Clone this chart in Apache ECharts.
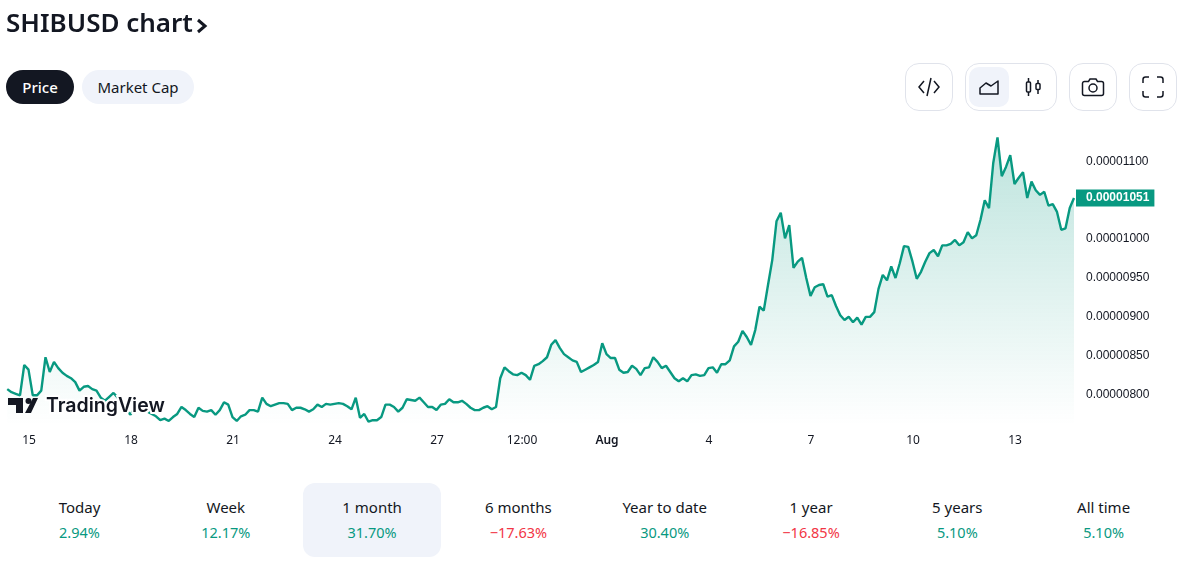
<!DOCTYPE html>
<html>
<head>
<meta charset="utf-8"/>
<title>SHIBUSD chart</title>
<script src="https://cdn.jsdelivr.net/npm/echarts@6/dist/echarts.min.js"></script>
<style>
    html, body { margin: 0; padding: 0; background: #fff; width: 1190px; height: 566px; overflow: hidden; }
    body { font-family: "Noto Sans", sans-serif; color: #131722; position: relative; }
    .abs { position: absolute; box-sizing: border-box; }
    #title { left: 6px; top: 3px; font-size: 26px; line-height: 38px; font-weight: 600; white-space: nowrap; }
    .pill { top: 70px; height: 34px; line-height: 34px; border-radius: 17px; text-align: center; font-size: 15px; }
    .btn { top: 63px; height: 48px; border: 1px solid #e0e3eb; border-radius: 14px; }
    .icon { top: 75px; width: 24px; height: 24px; fill: none; stroke: #131722; stroke-width: 1.5; }
    #main { left: 0; top: 0; width: 1190px; height: 460px; }
    .stat { top: 483px; width: 146px; height: 74px; text-align: center; }
    .stat .n { position: absolute; left: 0; right: 0; top: 13px; font-size: 15px; line-height: 22px; }
    .stat .v { position: absolute; left: 0; right: 0; top: 38px; font-size: 14.5px; line-height: 22px; }
</style>
</head>
<body>
<div class="abs" id="main"></div>

<div class="abs" id="title">SHIBUSD chart</div>
<svg class="abs" style="left:195px;top:17px;width:14px;height:18px" viewBox="0 0 14 18">
    <path d="M3 3l7 6-7 6" fill="none" stroke="#131722" stroke-width="3"/>
</svg>

<div class="abs pill" style="left:6px;width:68px;background:#131722;color:#fff;font-weight:500">Price</div>
<div class="abs pill" style="left:82px;width:112px;background:#f0f3fa">Market Cap</div>

<div class="abs btn" style="left:905px;width:48px"></div>
<div class="abs btn" style="left:965px;width:92px"></div>
<div class="abs" style="left:969px;top:67px;width:40px;height:40px;background:#f0f3fa;border-radius:10px"></div>
<div class="abs btn" style="left:1069px;width:48px"></div>
<div class="abs btn" style="left:1129px;width:48px"></div>

<svg class="abs icon" style="left:917px" viewBox="0 0 24 24"><path d="M7 6l-5 6 5 6M17 6l5 6-5 6M14 3l-4 18"/></svg>
<svg class="abs icon" style="left:977px" viewBox="0 0 24 24"><path d="M3 13l6-5 5 3 7-5v13H3z" stroke-linejoin="round"/></svg>
<svg class="abs icon" style="left:1021px" viewBox="0 0 24 24"><rect x="5.5" y="7" width="4" height="10" rx="1"/><rect x="15" y="8.5" width="4" height="6" rx="1"/><path d="M7.5 3v4M7.5 17v4M17 5v3.5M17 14.5V19"/></svg>
<svg class="abs icon" style="left:1081px" viewBox="0 0 24 24"><path d="M1.500 8.500a2 2 0 0 1 2-2h4l1.500-2.500h6l1.500 2.500h4a2 2 0 0 1 2 2V18.500a2 2 0 0 1-2 2h-17a2 2 0 0 1-2-2z"/><circle cx="12" cy="13" r="4"/></svg>
<svg class="abs icon" style="left:1141px" viewBox="0 0 24 24"><path d="M2 8V4.500A2.500 2.500 0 0 1 4.500 2H8M16 2h3.500A2.500 2.500 0 0 1 22 4.500V8M22 16v3.500a2.500 2.500 0 0 1-2.500 2.500H16M8 22H4.500A2.500 2.500 0 0 1 2 19.500V16"/></svg>

<script type="text/javascript">
    // price in units of 1e-8 USD, one reading every 3 hours
    var prices = [
        805, 801, 799, 797, 836, 830, 797, 797, 803, 846, 827, 840, 832, 826, 822, 819, 814, 803, 808, 809,
        805, 803, 794, 790, 795, 800, 794, 786, 778, 772, 781, 785, 778, 776, 773, 770, 765, 767, 764, 769,
        773, 782, 778, 773, 769, 781, 777, 776, 778, 772, 778, 788, 785, 769, 764, 770, 772, 778, 778, 776,
        794, 786, 783, 785, 787, 787, 786, 778, 781, 781, 779, 776, 779, 785, 782, 786, 785, 786, 787, 786,
        783, 779, 794, 768, 773, 763, 765, 765, 769, 785, 785, 782, 776, 781, 792, 791, 790, 794, 788, 782,
        782, 778, 785, 786, 792, 788, 788, 790, 786, 781, 778, 778, 781, 783, 779, 782, 819, 833, 828, 824,
        823, 826, 823, 817, 835, 837, 841, 846, 862, 868, 858, 850, 846, 842, 840, 827, 830, 833, 836, 840,
        864, 850, 845, 845, 830, 826, 827, 835, 831, 823, 832, 833, 846, 840, 832, 835, 827, 819, 815, 819,
        815, 823, 824, 822, 823, 832, 833, 826, 837, 837, 842, 860, 866, 880, 872, 862, 881, 911, 906, 939,
        971, 1021, 1032, 999, 1016, 961, 969, 974, 948, 925, 936, 939, 940, 924, 926, 912, 900, 894, 898, 891,
        897, 888, 898, 898, 904, 934, 952, 945, 963, 948, 967, 989, 988, 969, 947, 956, 969, 980, 984, 976,
        990, 990, 992, 997, 990, 994, 1007, 999, 1003, 1023, 1048, 1038, 1096, 1129, 1079, 1091, 1106, 1069, 1077, 1084,
        1051, 1072, 1061, 1055, 1059, 1041, 1043, 1033, 1010, 1012, 1038, 1051
    ];
    var firstDay = 14.36;   // days counted from 1 July
    var stepDay = 0.125;

    var tickDays = [15, 18, 21, 24, 27, 29.5, 32, 35, 38, 41, 44];
    var tickLabels = ['15', '18', '21', '24', '27', '12:00', 'Aug', '4', '7', '10', '13'];
    var priceTicks = [800, 850, 900, 950, 1000, 1100];

    var statNames = ['Today', 'Week', '1 month', '6 months', 'Year to date', '1 year', '5 years', 'All time'];
    var statValues = ['2.94%', '12.17%', '31.70%', '\u221217.63%', '30.40%', '\u221216.85%', '5.10%', '5.10%'];

    // bottom row
    statNames.forEach(function (name, i) {
        var left = 6.5 + i * 146.3;
        if (i === 2) {
            var box = document.createElement('div');
            box.className = 'abs';
            box.style.cssText = 'left:303px;top:483px;width:138px;height:74px;background:#f0f3fa;border-radius:12px';
            document.body.appendChild(box);
        }
        var d = document.createElement('div');
        d.className = 'abs stat';
        d.style.left = left + 'px';
        var color = statValues[i].charAt(0) === '\u2212' ? '#f23645' : '#089981';
        d.innerHTML = '<div class="n">' + name + '</div><div class="v" style="color:' + color + '">' + statValues[i] + '</div>';
        document.body.appendChild(d);
    });

    var lineData = prices.map(function (p, i) { return [firstDay + i * stepDay, p]; });

    var myChart = echarts.init(document.getElementById('main'), null, {renderer: 'canvas'});
    var option = {
        animation: false,
        grid: {left: 0, top: 125, width: 1074, height: 300, containLabel: false},
        xAxis: {
            type: 'value',
            min: 14.147,
            max: 45.735,
            splitLine: {show: false},
            axisLine: {show: false},
            axisTick: {show: false},
            axisLabel: {
                customValues: tickDays,
                margin: 10,
                fontFamily: 'Noto Sans',
                fontSize: 12,
                color: '#131722',
                formatter: function (v) {
                    var s = tickLabels[tickDays.indexOf(v)];
                    return s === 'Aug' ? '{b|Aug}' : s;
                },
                rich: {b: {fontFamily: 'Noto Sans', fontSize: 12, fontWeight: 600, color: '#131722'}}
            }
        },
        yAxis: {
            type: 'value',
            position: 'right',
            min: 758.8,
            max: 1144.9,
            splitLine: {show: false},
            axisLine: {show: false},
            axisTick: {show: false},
            axisLabel: {
                customValues: priceTicks,
                margin: 12,
                align: 'left',
                color: '#131722',
                formatter: function (v) { return '{p|' + (v / 1e8).toFixed(8) + '}'; },
                rich: {p: {fontFamily: 'Liberation Sans', fontSize: 12, color: '#131722', padding: [3, 0, 0, 0]}}
            }
        },
        series: [{
            type: 'line',
            data: lineData,
            showSymbol: false,
            smooth: false,
            lineStyle: {color: '#089981', width: 2.4},
            itemStyle: {color: '#089981'},
            areaStyle: {
                origin: 'start',
                opacity: 1,
                color: {
                    type: 'linear', x: 0, y: 125, x2: 0, y2: 425, global: true,
                    colorStops: [
                        {offset: 0, color: 'rgba(8,153,129,0.28)'},
                        {offset: 1, color: 'rgba(8,153,129,0)'}
                    ]
                }
            },
            endLabel: {
                show: true,
                distance: 2,
                formatter: function (p) { return (p.value[1] / 1e8).toFixed(8); },
                backgroundColor: '#089981',
                color: '#fff',
                fontFamily: 'Liberation Sans',
                fontWeight: 'bold',
                fontSize: 12,
                padding: [3, 5, 2, 10],
                lineHeight: 12
            }
        }],
        graphic: [
            {type: 'text', z: 100, x: 46, y: 396, style: {
                text: 'TradingView', fill: '#131722', font: '600 19.5px Inter',
                stroke: '#fff', lineWidth: 4, strokeFirst: true
            }},
            {type: 'polygon', z: 101, shape: {points: [[8, 398], [23, 398], [23, 413], [16, 413], [16, 405], [8, 405]]}, style: {fill: '#131722'}},
            {type: 'circle', z: 101, shape: {cx: 28.5, cy: 401, r: 3}, style: {fill: '#131722'}},
            {type: 'polygon', z: 101, shape: {points: [[33, 398], [38, 398], [31, 413], [25, 413]]}, style: {fill: '#131722'}}
        ]
    };
    myChart.setOption(option);
</script>
</body>
</html>
